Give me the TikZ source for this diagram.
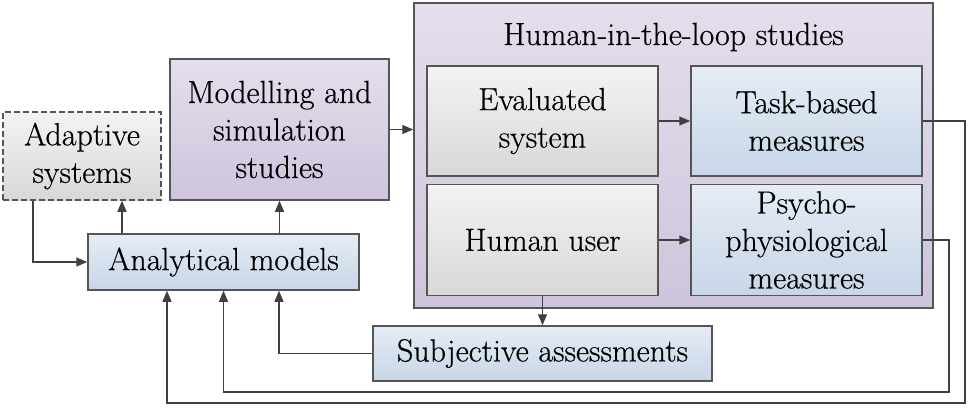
\documentclass[tikz,border=0pt]{standalone}
\usepackage{fontspec}
\setmainfont{Latin Modern Roman}[FakeBold=0.5]
\usepackage{tikz}
\usetikzlibrary{arrows.meta,calc}
\usetikzlibrary{positioning}
\definecolor{edgegray}{HTML}{555555}
\definecolor{linegray}{HTML}{404040}
\definecolor{purtop}{HTML}{E4DEEC}
\definecolor{purbot}{HTML}{CEC4DC}
\definecolor{bluetop}{HTML}{E5ECF5}
\definecolor{bluebot}{HTML}{C8D6E8}
\definecolor{graytop}{HTML}{F3F3F3}
\definecolor{graybot}{HTML}{D8D8D8}
\tikzset{
    block/.style={
           rectangle,
           draw=edgegray, line width=1.5pt,
           inner sep=2pt,
           align=center,
           font=\rmfamily\fontsize{32}{37.5}\selectfont,
           },
    purplebox/.style={block, top color=purtop, bottom color=purbot},
    bluebox/.style={block, top color=bluetop, bottom color=bluebot},
    graybox/.style={block, top color=graytop, bottom color=graybot},
    link/.style={-{Triangle[length=11pt,width=9pt]}, draw=linegray, line width=1.3pt},
}

\begin{document}
\begin{tikzpicture}[x=1pt, y=-1pt]
\useasboundingbox (0,0) rectangle (968,407);
\node[purplebox, minimum width=519pt, minimum height=305pt, xshift=673.5pt, yshift=-155.5pt] (hitl) {};
\node[font=\rmfamily\fontsize{32}{38}\selectfont, xshift=673.5pt, yshift=-37pt] (title) {Human-in-the-loop studies};
\node[graybox, dash pattern=on 6pt off 3pt, minimum width=158pt, minimum height=88pt, xshift=82pt, yshift=-156pt] (adapt) {Adaptive\\systems};
\node[purplebox, minimum width=219pt, minimum height=141pt, xshift=279.5pt, yshift=-129.5pt] (model) {Modelling and\\simulation\\studies};
\node[bluebox, minimum width=271pt, minimum height=56pt, xshift=223.5pt, yshift=-262pt] (anal) {Analytical models};
\node[graybox, minimum width=231pt, minimum height=110pt, xshift=542.5pt, yshift=-121pt] (eval) {Evaluated\\system};
\node[bluebox, minimum width=231pt, minimum height=110pt, xshift=806.5pt, yshift=-121pt] (task) {Task-based\\measures};
\node[graybox, minimum width=231pt, minimum height=111pt, xshift=542.5pt, yshift=-240pt] (human) {Human user};
\node[bluebox, minimum width=231pt, minimum height=111pt, xshift=806.5pt, yshift=-240pt] (psy) {Psycho-\\physiological\\measures};
\node[bluebox, minimum width=339pt, minimum height=55pt, xshift=542.5pt, yshift=-353.5pt] (subj) {Subjective assessments};
\coordinate[xshift=965pt, yshift=-403pt] (tb);
\coordinate[xshift=949pt, yshift=-392pt] (pb);
\coordinate[xshift=167pt, yshift=-403pt] (ta);
 \path (anal.north -| adapt.south) ++(40,0) coordinate (aa);
 \draw[link] ([xshift=-49pt]adapt.south) |- (anal.west);
 \draw[link] (aa) -- (aa |- adapt.south);
 \draw[link] (model.south |- anal.north) -- (model.south);
 \draw[link] (model.east) -- (model.east -| hitl.west);
 \draw[link] (eval.east) -- (task.west);
 \draw[link] (human.east) -- (psy.west);
 \draw[link] (human.south) -- (subj.north);
 \draw[link] (task.east) -| (tb) -- (ta) -- (ta |- anal.south);
 \draw[link] (psy.east) -| (pb) -- (pb -| anal.south) -- (anal.south);
 \draw[link] (subj.west) -| ([xshift=55.5pt]anal.south);
\end{tikzpicture}
\end{document}
